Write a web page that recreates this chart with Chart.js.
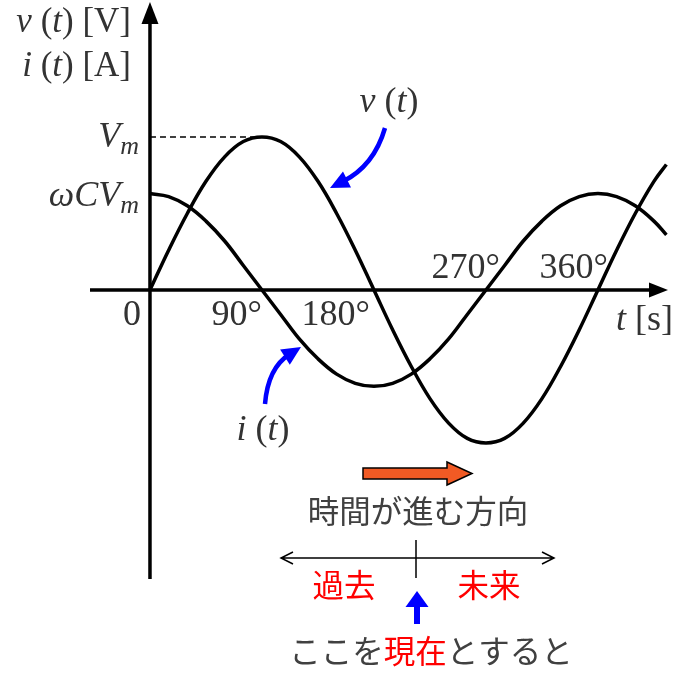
<!DOCTYPE html>
<html>
<head>
<meta charset="utf-8">
<script src="https://cdn.jsdelivr.net/npm/chart.js@4"></script>
<style>
  html, body { margin: 0; padding: 0; background: #fff; }
  #wrap { width: 676px; height: 674px; }
</style>
</head>
<body>
<div id="wrap"><canvas id="phaseChart" width="676" height="674"></canvas></div>
<script>
// phase angle in degrees
const angles = [0, 15, 30, 45, 60, 75, 90, 105, 120, 135, 150, 165, 180, 195, 210, 225, 240, 255, 270, 285, 300, 315, 330, 345, 360, 375, 390, 405, 415];
// v(t), in units of Vm
const voltage = [0, 0.26, 0.5, 0.71, 0.87, 0.97, 1, 0.97, 0.87, 0.71, 0.5, 0.26, 0, -0.26, -0.5, -0.71, -0.87, -0.97, -1, -0.97, -0.87, -0.71, -0.5, -0.26, 0, 0.26, 0.5, 0.71, 0.82];
// i(t), peak is wCVm
const current = [0.63, 0.61, 0.55, 0.45, 0.32, 0.16, 0, -0.16, -0.32, -0.45, -0.55, -0.61, -0.63, -0.61, -0.55, -0.45, -0.32, -0.16, 0, 0.16, 0.32, 0.45, 0.55, 0.61, 0.63, 0.61, 0.55, 0.45, 0.36];
const tickAngles = [90, 180, 270, 360];
const tickLabels = ['90°', '180°', '270°', '360°'];

const SERIF = '"Liberation Serif", "DejaVu Serif", serif';
const JP = '"Noto Sans CJK JP", "Noto Sans", sans-serif';

function toPoints(ys) {
    return angles.map((a, k) => ({ x: a, y: ys[k] }));
}

// draw a run of text pieces: [text, italic, size, dy]
function drawRich(ctx, parts, x, y, align) {
    let total = 0;
    parts.forEach(p => {
        ctx.font = (p[1] ? 'italic ' : '') + p[2] + 'px ' + SERIF;
        total += ctx.measureText(p[0]).width;
    });
    let cx = align === 'right' ? x - total : align === 'center' ? x - total / 2 : x;
    ctx.textAlign = 'left';
    ctx.textBaseline = 'alphabetic';
    parts.forEach(p => {
        ctx.font = (p[1] ? 'italic ' : '') + p[2] + 'px ' + SERIF;
        ctx.fillText(p[0], cx, y + (p[3] || 0));
        cx += ctx.measureText(p[0]).width;
    });
}

function arrowHead(ctx, fromX, fromY, tipX, tipY, len, half) {
    const ang = Math.atan2(tipY - fromY, tipX - fromX);
    ctx.beginPath();
    ctx.moveTo(tipX, tipY);
    ctx.lineTo(tipX - len * Math.cos(ang) + half * Math.sin(ang), tipY - len * Math.sin(ang) - half * Math.cos(ang));
    ctx.lineTo(tipX - len * Math.cos(ang) - half * Math.sin(ang), tipY - len * Math.sin(ang) + half * Math.cos(ang));
    ctx.closePath();
    ctx.fill();
}

function curvedArrow(ctx, sx, sy, qx, qy, tx, ty) {
    const ang = Math.atan2(ty - qy, tx - qx);
    const ex = tx - 14 * Math.cos(ang), ey = ty - 14 * Math.sin(ang);
    ctx.save();
    ctx.strokeStyle = '#0000ff';
    ctx.fillStyle = '#0000ff';
    ctx.lineWidth = 4.5;
    ctx.beginPath();
    ctx.moveTo(sx, sy);
    ctx.quadraticCurveTo(qx, qy, ex, ey);
    ctx.stroke();
    arrowHead(ctx, qx, qy, tx, ty, 19, 9);
    ctx.restore();
}

const axesPlugin = {
    id: 'axesPlugin',
    beforeDatasetsDraw(chart) {
        const ctx = chart.ctx;
        const area = chart.chartArea;
        const x0 = chart.scales.x.getPixelForValue(0);
        const y0 = chart.scales.y.getPixelForValue(0);
        ctx.save();
        ctx.strokeStyle = '#000';
        ctx.fillStyle = '#000';
        ctx.lineWidth = 3.5;
        ctx.beginPath();
        ctx.moveTo(x0, area.bottom);
        ctx.lineTo(x0, area.top + 18);
        ctx.moveTo(area.left, y0);
        ctx.lineTo(area.right - 16, y0);
        ctx.stroke();
        arrowHead(ctx, x0, area.bottom, x0, area.top, 22, 8.5);
        arrowHead(ctx, area.left, y0, area.right, y0, 19, 7.5);

        // dashed guide at Vm
        const yPeak = chart.scales.y.getPixelForValue(1);
        ctx.lineWidth = 1.5;
        ctx.setLineDash([6, 4]);
        ctx.beginPath();
        ctx.moveTo(x0, yPeak);
        ctx.lineTo(chart.scales.x.getPixelForValue(90), yPeak);
        ctx.stroke();
        ctx.restore();
    }
};

const labelPlugin = {
    id: 'labelPlugin',
    afterDraw(chart) {
        const ctx = chart.ctx;
        const xs = chart.scales.x, ys = chart.scales.y;
        const y0 = ys.getPixelForValue(0);
        ctx.save();
        ctx.fillStyle = '#333';

        drawRich(ctx, [['v', true, 35], [' (', false, 35], ['t', true, 35], [') [V]', false, 35]], 131, 32, 'right');
        drawRich(ctx, [['i', true, 35], [' (', false, 35], ['t', true, 35], [') [A]', false, 35]], 131, 76, 'right');

        drawRich(ctx, [['V', true, 36], ['m', true, 26, 7]], 139, ys.getPixelForValue(1) + 10, 'right');
        drawRich(ctx, [['ωCV', true, 36], ['m', true, 26, 7]], 139, ys.getPixelForValue(current[0]) + 12, 'right');

        drawRich(ctx, [['0', false, 36]], xs.getPixelForValue(0) - 18, y0 + 35, 'center');
        const offs = [[0, 35], [-4, 35], [14, -12], [10, -12]];
        tickAngles.forEach((a, k) => {
            drawRich(ctx, [[tickLabels[k], false, 36]], xs.getPixelForValue(a) + offs[k][0], y0 + offs[k][1], 'right');
        });
        drawRich(ctx, [['t', true, 36], [' [s]', false, 36]], 673, y0 + 40, 'right');

        drawRich(ctx, [['v', true, 36], [' (', false, 36], ['t', true, 36], [')', false, 36]], 389, 112, 'center');
        drawRich(ctx, [['i', true, 36], [' (', false, 36], ['t', true, 36], [')', false, 36]], 263, 440, 'center');

        curvedArrow(ctx, 385, 128, 374, 166, 330, 188);
        curvedArrow(ctx, 265, 404, 268, 368, 301, 347);

        // time direction arrow
        ctx.fillStyle = '#f15a24';
        ctx.strokeStyle = '#000';
        ctx.lineWidth = 1.5;
        ctx.beginPath();
        ctx.moveTo(363, 468);
        ctx.lineTo(447, 468);
        ctx.lineTo(447, 462);
        ctx.lineTo(472, 473.5);
        ctx.lineTo(447, 485);
        ctx.lineTo(447, 479);
        ctx.lineTo(363, 479);
        ctx.closePath();
        ctx.fill();
        ctx.stroke();

        ctx.font = '31.5px ' + JP;
        ctx.textAlign = 'center';
        ctx.textBaseline = 'middle';
        ctx.fillStyle = '#404040';
        ctx.fillText('時間が進む方向', 418, 511);

        // past / future line
        ctx.strokeStyle = '#000';
        ctx.lineWidth = 1.5;
        ctx.beginPath();
        ctx.moveTo(281, 558);
        ctx.lineTo(554, 558);
        ctx.moveTo(293, 552);
        ctx.lineTo(281, 558);
        ctx.lineTo(293, 564);
        ctx.moveTo(542, 552);
        ctx.lineTo(554, 558);
        ctx.lineTo(542, 564);
        ctx.moveTo(416, 540);
        ctx.lineTo(416, 578);
        ctx.stroke();

        ctx.fillStyle = '#ff0000';
        ctx.fillText('過去', 344, 585);
        ctx.fillText('未来', 489, 585);

        // "now" marker
        ctx.fillStyle = '#0000ff';
        ctx.fillRect(414, 605, 6, 19);
        ctx.beginPath();
        ctx.moveTo(417, 591);
        ctx.lineTo(428.5, 607);
        ctx.lineTo(405.5, 607);
        ctx.closePath();
        ctx.fill();

        const pieces = [['ここを', '#404040'], ['現在', '#ff0000'], ['とすると', '#404040']];
        ctx.textAlign = 'left';
        let w = 0;
        pieces.forEach(p => { w += ctx.measureText(p[0]).width; });
        let cx = 431 - w / 2;
        pieces.forEach(p => {
            ctx.fillStyle = p[1];
            ctx.fillText(p[0], cx, 651);
            cx += ctx.measureText(p[0]).width;
        });
        ctx.restore();
    }
};

const chart = new Chart(document.getElementById('phaseChart'), {
    type: 'line',
    data: {
        datasets: [
            { label: 'v(t)', data: toPoints(voltage), borderColor: '#000', borderWidth: 3.5, pointRadius: 0, tension: 0.4, fill: false },
            { label: 'i(t)', data: toPoints(current), borderColor: '#000', borderWidth: 3.5, pointRadius: 0, tension: 0.4, fill: false }
        ]
    },
    options: {
        responsive: false,
        animation: false,
        events: [],
        layout: { padding: { left: 90, right: 8, top: 2, bottom: 95 } },
        scales: {
            x: { type: 'linear', display: false, min: -48.2, max: 416.3 },
            y: { display: false, min: -1.889, max: 1.882 }
        },
        plugins: {
            legend: { display: false },
            tooltip: { enabled: false }
        }
    },
    plugins: [axesPlugin, labelPlugin]
});
</script>
</body>
</html>
